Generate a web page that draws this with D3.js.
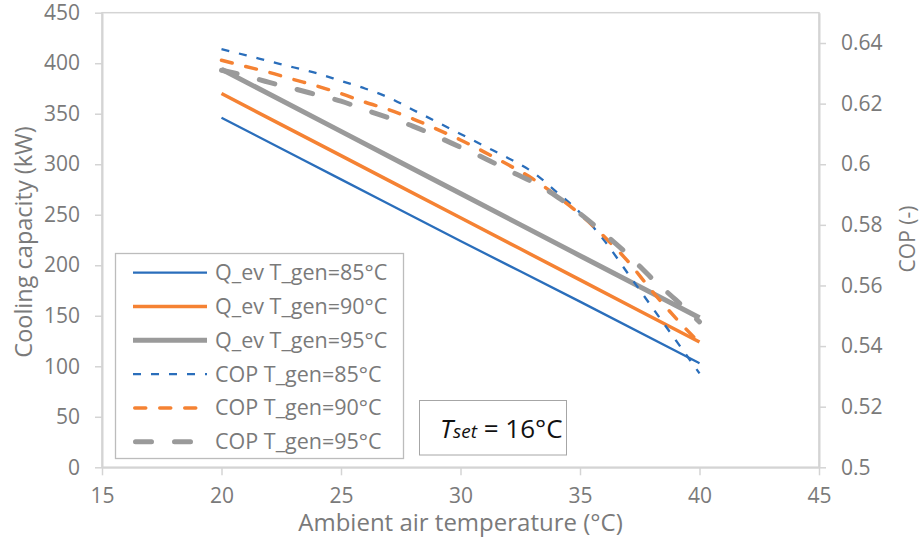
<!DOCTYPE html>
<html>
<head>
<meta charset="utf-8">
<script src="https://cdn.jsdelivr.net/npm/d3@7"></script>
<style>
  body { margin: 0; background: #fff; }
  svg { display: block; font-family: "Open Sans", sans-serif; }
</style>
</head>
<body>
<svg width="921" height="541"></svg>
<script>
// ambient temperature (x) for the cooling capacity lines
var qTemps = [20, 25, 30, 35, 40];
// cooling capacity Q_ev (kW), left axis
var qGen85 = [346, 285, 224, 164, 103];
var qGen90 = [370, 308.5, 247, 185.5, 124];
var qGen95 = [394, 332.5, 271, 209.5, 148];

// ambient temperature (x) for the COP curves
var copTemps = [20, 21, 22, 23, 24, 25, 26, 27, 28, 29, 30, 31, 32, 33, 34, 35, 36, 37, 38, 39, 40];
// COP (-), right axis
var copGen85 = [0.638, 0.636, 0.634, 0.632, 0.630, 0.6275, 0.625, 0.622, 0.618, 0.614, 0.610, 0.606, 0.602, 0.5975, 0.591, 0.584, 0.575, 0.564, 0.553, 0.542, 0.531];
var copGen90 = [0.6343, 0.6323, 0.6303, 0.628, 0.6258, 0.6233, 0.6205, 0.618, 0.615, 0.6116, 0.608, 0.604, 0.5998, 0.5953, 0.5897, 0.5835, 0.5762, 0.568, 0.5583, 0.5493, 0.541];
var copGen95 = [0.631, 0.6292, 0.627, 0.625, 0.6229, 0.6208, 0.618, 0.6153, 0.6126, 0.6092, 0.6056, 0.602, 0.598, 0.5942, 0.5895, 0.5837, 0.5772, 0.5702, 0.5624, 0.5553, 0.548];

// tick values
var xTicks = [15, 20, 25, 30, 35, 40, 45];
var yLeftTicks = [0, 50, 100, 150, 200, 250, 300, 350, 400, 450];
var yRightTicks = [0.5, 0.52, 0.54, 0.56, 0.58, 0.6, 0.62, 0.64];

var seriesNames = ["Q_ev T_gen=85°C", "Q_ev T_gen=90°C", "Q_ev T_gen=95°C",
                   "COP T_gen=85°C", "COP T_gen=90°C", "COP T_gen=95°C"];

var blue = "#2a6ebb", orange = "#f58233", grey = "#9a9a9a";
var textGrey = "#7a7a7a", axisGrey = "#d4d4d4";

var svg = d3.select("svg");
var plot = {left: 102, right: 819, top: 12.7, bottom: 467.3};

var xScale = d3.scaleLinear().domain([15, 45]).range([plot.left, plot.right]);
var yLeft = d3.scaleLinear().domain([0, 450]).range([plot.bottom, plot.top]);
var yRight = d3.scaleLinear().domain([0.5, 0.65]).range([plot.bottom, plot.top]);

// plot area frame
svg.append("rect")
    .attr("x", plot.left).attr("y", plot.top)
    .attr("width", plot.right - plot.left).attr("height", plot.bottom - plot.top)
    .attr("fill", "none").attr("stroke", axisGrey).attr("stroke-width", 1.5);

function styleAxis(g) {
    g.selectAll("path.domain").attr("stroke", axisGrey).attr("stroke-width", 2);
    g.selectAll(".tick line").attr("stroke", axisGrey).attr("stroke-width", 1.5);
    g.selectAll(".tick text").attr("fill", textGrey)
        .style("font-size", "21px").style("font-family", "'Open Sans', sans-serif");
}

var gX = svg.append("g")
    .attr("transform", "translate(0," + plot.bottom + ")")
    .call(d3.axisBottom(xScale).tickValues(xTicks).tickSize(8).tickSizeOuter(0).tickPadding(13))
    .call(styleAxis);

var gYL = svg.append("g")
    .attr("transform", "translate(" + plot.left + ",0)")
    .call(d3.axisLeft(yLeft).tickValues(yLeftTicks).tickSize(7).tickSizeOuter(0).tickPadding(15))
    .call(styleAxis);

var gYR = svg.append("g")
    .attr("transform", "translate(" + plot.right + ",0)")
    .call(d3.axisRight(yRight).tickValues(yRightTicks).tickSize(7).tickSizeOuter(0).tickPadding(15)
        .tickFormat(function (d) { return String(+d.toFixed(2)); }))
    .call(styleAxis);

// axis titles
svg.append("text")
    .attr("x", (plot.left + plot.right) / 2).attr("y", 531)
    .attr("text-anchor", "middle").attr("fill", textGrey)
    .style("font-size", "24px")
    .text("Ambient air temperature (°C)");

svg.append("text")
    .attr("transform", "translate(32,242) rotate(-90)")
    .attr("text-anchor", "middle").attr("fill", textGrey)
    .style("font-size", "23.5px")
    .text("Cooling capacity (kW)");

svg.append("text")
    .attr("transform", "translate(915,239) rotate(-90)")
    .attr("text-anchor", "middle").attr("fill", textGrey)
    .style("font-size", "21px")
    .text("COP (-)");

// series
var series = [
    {name: seriesNames[0], xs: qTemps, ys: qGen85, scale: yLeft, color: blue, width: 2.3, dash: null, cap: "butt"},
    {name: seriesNames[1], xs: qTemps, ys: qGen90, scale: yLeft, color: orange, width: 3.5, dash: null, cap: "butt"},
    {name: seriesNames[2], xs: qTemps, ys: qGen95, scale: yLeft, color: grey, width: 5, dash: null, cap: "butt"},
    {name: seriesNames[3], xs: copTemps, ys: copGen85, scale: yRight, color: blue, width: 2.3, dash: "8,10", cap: "butt"},
    {name: seriesNames[4], xs: copTemps, ys: copGen90, scale: yRight, color: orange, width: 3.5, dash: "11,14", cap: "round"},
    {name: seriesNames[5], xs: copTemps, ys: copGen95, scale: yRight, color: grey, width: 5, dash: "16,23", cap: "round"}
];

var lineGroup = svg.append("g");
series.forEach(function (s) {
    var pts = s.xs.map(function (x, i) { return [x, s.ys[i]]; });
    var line = d3.line()
        .x(function (d) { return xScale(d[0]); })
        .y(function (d) { return s.scale(d[1]); })
        .curve(d3.curveMonotoneX);
    lineGroup.append("path")
        .datum(pts)
        .attr("d", line)
        .attr("fill", "none")
        .attr("stroke", s.color)
        .attr("stroke-width", s.width)
        .attr("stroke-linejoin", "round")
        .attr("stroke-linecap", s.cap)
        .attr("stroke-dasharray", s.dash);
});

// legend
var legend = svg.append("g");
legend.append("rect")
    .attr("x", 115.5).attr("y", 253.5).attr("width", 288).attr("height", 205)
    .attr("fill", "#fff").attr("stroke", "#bcbcbc").attr("stroke-width", 1.3);

series.forEach(function (s, i) {
    var y = 272.7 + i * 33.8;
    var capPad = s.cap === "round" ? s.width / 2 : 0;
    legend.append("line")
        .attr("x1", 133 + capPad).attr("x2", 207 - capPad)
        .attr("y1", y).attr("y2", y)
        .attr("stroke", s.color).attr("stroke-width", s.width)
        .attr("stroke-linecap", s.cap)
        .attr("stroke-dasharray", s.dash);
    legend.append("text")
        .attr("x", 215).attr("y", y).attr("dy", "0.35em")
        .attr("fill", textGrey)
        .style("font-size", "21.5px")
        .text(s.name);
});

// T_set annotation
var note = svg.append("g");
note.append("rect")
    .attr("x", 419.5).attr("y", 400.5).attr("width", 147).attr("height", 54.5)
    .attr("fill", "#fff").attr("stroke", "#a6a6a6").attr("stroke-width", 1);
var noteText = note.append("text")
    .attr("x", 440).attr("y", 438).attr("fill", "#111")
    .style("font-size", "26px");
noteText.append("tspan").style("font-style", "italic").text("T");
noteText.append("tspan").style("font-style", "italic").style("font-size", "19px").text("set");
noteText.append("tspan").text(" = 16°C");
</script>
</body>
</html>
